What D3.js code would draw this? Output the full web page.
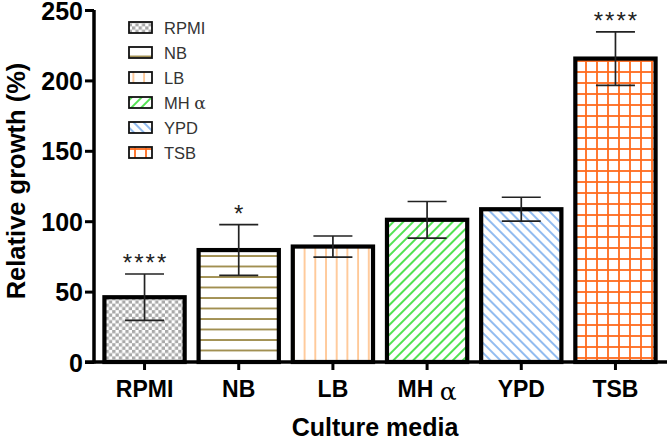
<!DOCTYPE html>
<html><head><meta charset="utf-8">
<script src="https://cdn.jsdelivr.net/npm/d3@7"></script>
<style>body{margin:0;background:#fff}svg{display:block}</style>
</head><body>
<svg id="c" width="667" height="442"></svg>
<script>
const categories = ["RPMI","NB","LB","MH α","YPD","TSB"];
const values = [46, 79.5, 82, 101, 108.5, 215.5];
const errors = [16.5, 18, 7.5, 13, 8.5, 19];
const stars = ["****","*","","","","****"];
const yTicks = [0,50,100,150,200,250];
const patternIds = ["pRPMI","pNB","pLB","pMH","pYPD","pTSB"];

(function(){
const FONT = "Liberation Sans, Arial, Helvetica, sans-serif";
const svg = d3.select("#c");
const defs = svg.append("defs");
let p = defs.append("pattern").attr("id","pRPMI").attr("patternUnits","userSpaceOnUse").attr("width",6.6).attr("height",6.6);
p.append("rect").attr("width",6.6).attr("height",6.6).attr("fill","#fff");
p.append("rect").attr("width",3.3).attr("height",3.3).attr("fill","#a9a9a9");
p.append("rect").attr("x",3.3).attr("y",3.3).attr("width",3.3).attr("height",3.3).attr("fill","#a9a9a9");
p = defs.append("pattern").attr("id","pNB").attr("patternUnits","userSpaceOnUse").attr("width",10).attr("height",10.5).attr("y",3);
p.append("rect").attr("width",10).attr("height",10.5).attr("fill","#fff");
p.append("line").attr("x1",0).attr("x2",10).attr("y1",1).attr("y2",1).attr("stroke","#9c8a48").attr("stroke-width",1.8);
p = defs.append("pattern").attr("id","pLB").attr("patternUnits","userSpaceOnUse").attr("width",10.7).attr("height",10).attr("x",4);
p.append("rect").attr("width",10.7).attr("height",10).attr("fill","#fff");
p.append("line").attr("x1",1).attr("x2",1).attr("y1",0).attr("y2",10).attr("stroke","#ffbf86").attr("stroke-width",1.6);
p = defs.append("pattern").attr("id","pMH").attr("patternUnits","userSpaceOnUse").attr("width",7).attr("height",7).attr("patternTransform","rotate(45)");
p.append("rect").attr("width",7).attr("height",7).attr("fill","#fff");
p.append("line").attr("x1",1).attr("x2",1).attr("y1",0).attr("y2",7).attr("stroke","#33dd33").attr("stroke-width",1.7);
p = defs.append("pattern").attr("id","pYPD").attr("patternUnits","userSpaceOnUse").attr("width",7).attr("height",7).attr("patternTransform","rotate(-45)");
p.append("rect").attr("width",7).attr("height",7).attr("fill","#fff");
p.append("line").attr("x1",1).attr("x2",1).attr("y1",0).attr("y2",7).attr("stroke","#7fb0ee").attr("stroke-width",1.7);
p = defs.append("pattern").attr("id","pTSB").attr("patternUnits","userSpaceOnUse").attr("width",11).attr("height",11).attr("x",2).attr("y",5);
p.append("rect").attr("width",11).attr("height",11).attr("fill","#fff");
p.append("line").attr("x1",1).attr("x2",1).attr("y1",0).attr("y2",11).attr("stroke","#ff6a1c").attr("stroke-width",1.8);
p.append("line").attr("x1",0).attr("x2",11).attr("y1",1).attr("y2",1).attr("stroke","#ff6a1c").attr("stroke-width",1.8);

const mLeft = 94, mRight = 665, mTop = 10, mBottom = 362;
const x = d3.scaleBand().domain(categories).range([mLeft + 1, mRight]).paddingInner(0.148).paddingOuter(0.1);
const y = d3.scaleLinear().domain([0,250]).range([mBottom, mTop]);

svg.append("g").selectAll("rect").data(categories).join("rect")
  .attr("x", d => x(d))
  .attr("y", (d,i) => y(values[i]))
  .attr("width", x.bandwidth())
  .attr("height", (d,i) => mBottom - y(values[i]))
  .attr("fill", (d,i) => `url(#${patternIds[i]})`)
  .attr("stroke","#000").attr("stroke-width",4.2);

const eg = svg.append("g").attr("stroke","#222").attr("stroke-width",1.7);
categories.forEach((c,i) => {
  const cx = x(c) + x.bandwidth()/2;
  const hi = y(values[i] + errors[i]), lo = y(values[i] - errors[i]);
  eg.append("line").attr("x1",cx).attr("x2",cx).attr("y1",hi).attr("y2",lo);
  eg.append("line").attr("x1",cx-19.5).attr("x2",cx+19.5).attr("y1",hi).attr("y2",hi);
  eg.append("line").attr("x1",cx-19.5).attr("x2",cx+19.5).attr("y1",lo).attr("y2",lo);
  if (stars[i]) {
    svg.append("text").attr("x",cx + 1).attr("y",hi - 3).attr("text-anchor","middle")
      .attr("font-family",FONT).attr("font-size",24).attr("letter-spacing",2).attr("fill","#222")
      .text(stars[i]);
  }
});

const yAxis = svg.append("g").attr("transform",`translate(${mLeft},0)`)
  .call(d3.axisLeft(y).tickValues(yTicks).tickSize(9).tickPadding(2));
yAxis.select(".domain").attr("stroke","#000").attr("stroke-width",3.5).attr("d",`M0,${mBottom+1.5}V${mTop}`);
yAxis.selectAll(".tick line").attr("stroke","#000").attr("stroke-width",3);
yAxis.selectAll(".tick text").attr("font-family",FONT).attr("font-weight","bold").attr("font-size",25).attr("fill","#000").attr("dy","0.36em");

const xAxis = svg.append("g").attr("transform",`translate(0,${mBottom})`)
  .call(d3.axisBottom(x).tickSize(8).tickPadding(11).tickFormat(d => d));
xAxis.select(".domain").attr("stroke","#000").attr("stroke-width",3.5).attr("d",`M${mLeft-9},0H${mRight+2}`);
xAxis.selectAll(".tick line").attr("stroke","#000").attr("stroke-width",3);
xAxis.selectAll(".tick text").attr("font-family",FONT).attr("font-weight","bold").attr("font-size",23).attr("fill","#000")
  .each(function(d){
    const t = d3.select(this);
    if (d.indexOf("α") >= 0) {
      t.text(null);
      t.append("tspan").text(d.replace(" α","") + " ");
      t.append("tspan").text("α").attr("font-weight","normal").attr("font-family","DejaVu Serif, serif").attr("font-size",25).attr("dy","0.12em");
    }
  });

svg.append("text").attr("transform",`translate(25,${181}) rotate(-90)`).attr("text-anchor","middle")
  .attr("font-family",FONT).attr("font-weight","bold").attr("font-size",25.5).text("Relative growth (%)");
svg.append("text").attr("x",375).attr("y",436).attr("text-anchor","middle")
  .attr("font-family",FONT).attr("font-weight","bold").attr("font-size",25).text("Culture media");

const lg = svg.append("g");
categories.forEach((c,i) => {
  const ly = 22 + i*25;
  lg.append("rect").attr("x",129).attr("y",ly).attr("width",23).attr("height",11)
    .attr("fill",`url(#${patternIds[i]})`).attr("stroke","#111").attr("stroke-width",1.8);
  const t = lg.append("text").attr("x",164).attr("y",ly+11.5).attr("font-family",FONT)
    .attr("font-size",16.5).attr("fill","#333");
  if (c.indexOf("α") >= 0) {
    t.append("tspan").text("MH ");
    t.append("tspan").text("α").attr("font-family","DejaVu Serif, serif").attr("font-size",17);
  } else t.text(c);
});
})();
</script>
</body></html>
